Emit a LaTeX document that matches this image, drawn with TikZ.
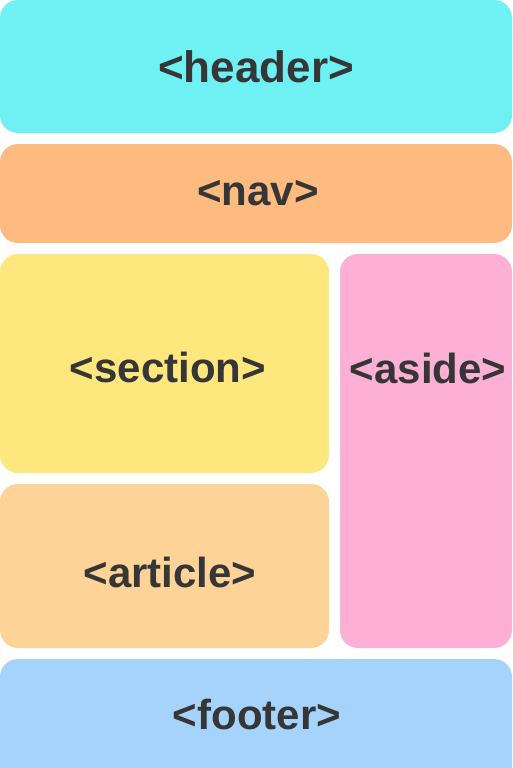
\documentclass[tikz,border=0pt]{standalone}
\usepackage{fontspec}
\setmainfont{Liberation Sans}
\definecolor{hdr}{HTML}{6FF0F2}
\definecolor{navc}{HTML}{FDBB80}
\definecolor{secc}{HTML}{FEE77D}
\definecolor{asdc}{HTML}{FDAFD5}
\definecolor{artc}{HTML}{FDD398}
\definecolor{ftrc}{HTML}{A6D3FB}
\definecolor{txt}{HTML}{363636}
\begin{document}
\begin{tikzpicture}[x=1pt,y=-1pt,
  blk/.style={rounded corners=18pt},
  lbl/.style={text=txt,font=\bfseries\fontsize{42}{48}\selectfont,inner sep=0pt}]
\useasboundingbox (0,0) rectangle (512,768);
\fill[white] (0,0) rectangle (512,768);
\fill[blk,hdr] (0,0) rectangle (512,133);
\fill[blk,navc] (0,144) rectangle (512,243);
\fill[blk,secc] (0,254) rectangle (329,473);
\fill[blk,asdc] (340,254) rectangle (512,648);
\fill[blk,artc] (0,484) rectangle (329,648);
\fill[blk,ftrc] (0,659) rectangle (512,790);
\node[lbl,font=\bfseries\fontsize{44}{50}\selectfont] (header) at (256,67) {<header>};
\node[lbl] (nav) at (258,193) {<nav>};
\node[lbl] (section) at (168,367) {<section>};
\node[lbl] (aside) at (428,368) {<aside>};
\node[lbl] (article) at (170,572) {<article>};
\node[lbl] (footer) at (257,714) {<footer>};
\end{tikzpicture}
\end{document}
